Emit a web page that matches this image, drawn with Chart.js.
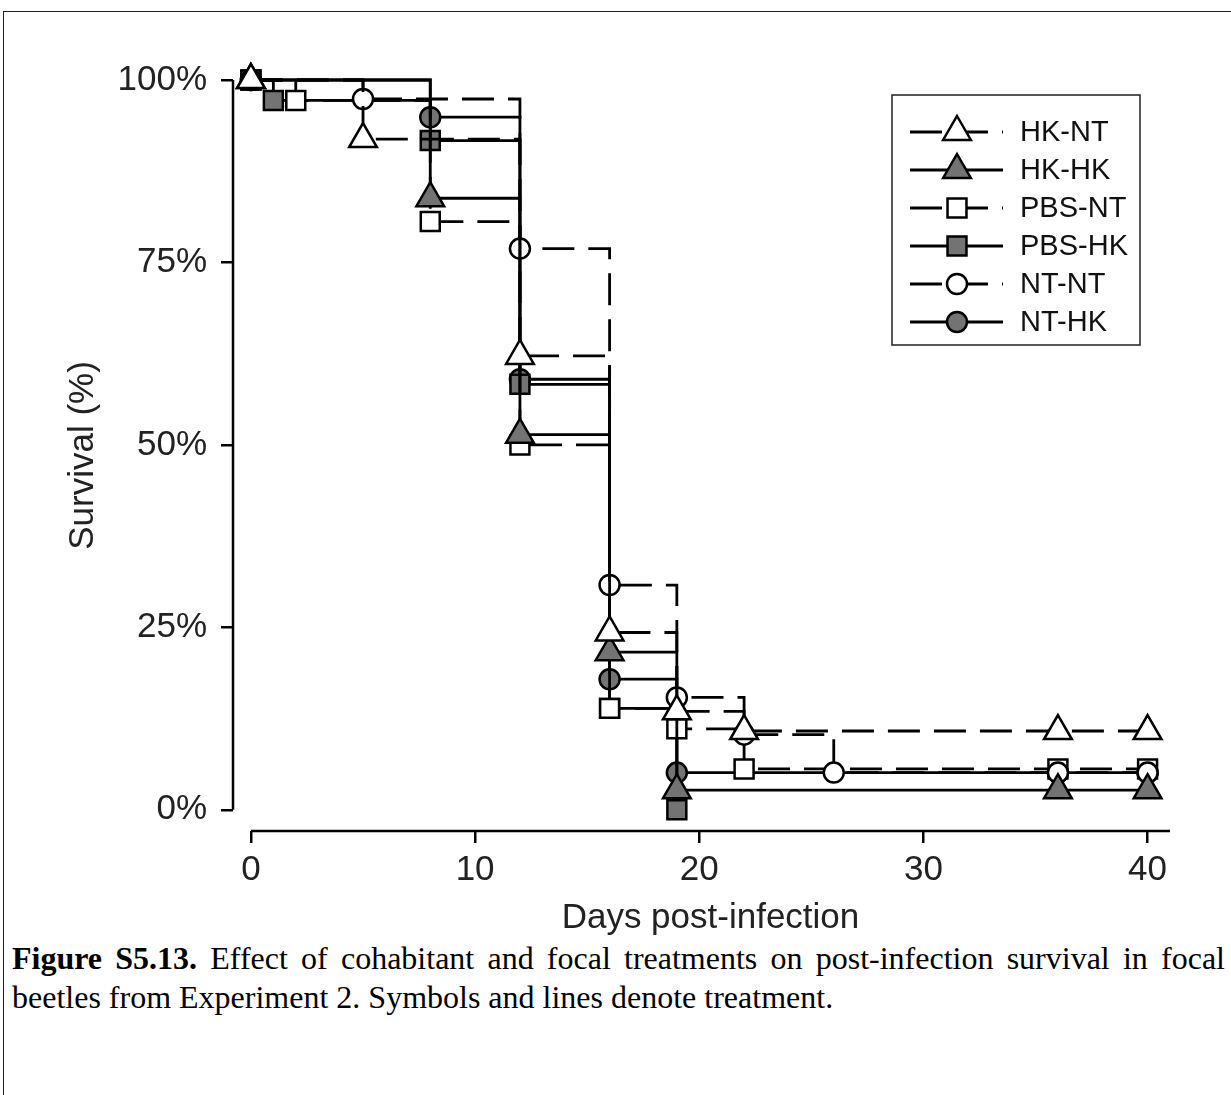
<!DOCTYPE html>
<html>
<head>
<meta charset="utf-8">
<title>Survival by treatment</title>
<style>
  html, body { margin: 0; padding: 0; background: #fff; overflow: hidden; }
  body { width: 1231px; height: 1095px; position: relative; }
  #frame { position: absolute; left: 3px; top: 11px; width: 1240px; height: 1100px; border: 1.5px solid #222; }
  #chart-box { position: absolute; left: 0; top: 0; width: 1231px; height: 939px; }
  #caption {
    position: absolute; left: 12px; top: 939px; width: 1213px;
    font-family: "Liberation Serif", "Times New Roman", serif;
    font-size: 32px; line-height: 39px; text-align: justify; color: #000;
  }
</style>
</head>
<body>
<div id="frame"></div>
<div id="chart-box"><canvas id="chart-survival"></canvas></div>
<div id="caption"><b>Figure S5.13.</b> Effect of cohabitant and focal treatments on post-infection survival in focal beetles from Experiment 2. Symbols and lines denote treatment.</div>

<script src="https://cdn.jsdelivr.net/npm/chart.js@4"></script>
<script>
  // Kaplan-Meier estimates (days, survival %)
  const groups = ['HK-NT', 'HK-HK', 'PBS-NT', 'PBS-HK', 'NT-NT', 'NT-HK'];

  const hkNtDays = [0, 5, 12, 16, 19, 22, 36, 40];
  const hkNtSurv = [100, 91.9, 62.2, 24.3, 13.5, 10.8, 10.8, 10.8];

  const hkHkDays = [0, 8, 12, 16, 19, 36, 40];
  const hkHkSurv = [100, 83.8, 51.4, 21.6, 2.7, 2.7, 2.7];

  const pbsNtDays = [0, 2, 8, 12, 16, 19, 22, 36, 40];
  const pbsNtSurv = [100, 97.2, 80.6, 50, 13.9, 11.1, 5.6, 5.6, 5.6];

  const pbsHkDays = [0, 1, 8, 12, 16, 19];
  const pbsHkSurv = [100, 97.2, 91.7, 58.3, 13.9, 0];

  const ntNtDays = [0, 5, 12, 16, 19, 22, 26, 36, 40];
  const ntNtSurv = [100, 97.4, 76.9, 30.8, 15.4, 10.3, 5.1, 5.1, 5.1];

  const ntHkDays = [0, 8, 12, 16, 19, 36, 40];
  const ntHkSurv = [100, 94.9, 59.0, 17.9, 5.1, 5.1, 5.1];

  const xTicks = [0, 10, 20, 30, 40];
  const yTicks = [0, 25, 50, 75, 100];
  const yTickLabels = ['0%', '25%', '50%', '75%', '100%'];
  const xTitle = 'Days post-infection';

  const series = [
    [hkNtDays, hkNtSurv],
    [hkHkDays, hkHkSurv],
    [pbsNtDays, pbsNtSurv],
    [pbsHkDays, pbsHkSurv],
    [ntNtDays, ntNtSurv],
    [ntHkDays, ntHkSurv],
  ];

  const gray = '#737373';
  const dash = [32, 14];
  // marker shape, fill, dashed line, draw order (lower = on top)
  const looks = {
    'HK-NT': { shape: 'triangle', fill: '#fff', dashed: true, order: 0 },
    'HK-HK': { shape: 'triangle', fill: gray, dashed: false, order: 1 },
    'PBS-NT': { shape: 'rect', fill: '#fff', dashed: true, order: 3 },
    'PBS-HK': { shape: 'rect', fill: gray, dashed: false, order: 4 },
    'NT-NT': { shape: 'circle', fill: '#fff', dashed: true, order: 2 },
    'NT-HK': { shape: 'circle', fill: gray, dashed: false, order: 5 },
  };
  const radius = { triangle: 16, rect: 13.4, circle: 10 };

  const datasets = groups.map((name, i) => {
    const [days, surv] = series[i];
    const look = looks[name];
    return {
      label: name,
      data: days.map((d, j) => ({ x: d, y: surv[j] })),
      stepped: true,
      borderColor: '#000',
      borderWidth: 2.8,
      borderDash: look.dashed ? dash : [],
      borderCapStyle: 'butt',
      fill: false,
      pointStyle: look.shape,
      pointRadius: radius[look.shape],
      pointBackgroundColor: look.fill,
      pointBorderColor: '#000',
      pointBorderWidth: 2.5,
      order: look.order,
      clip: false,
    };
  });

  function drawMarker(ctx, shape, r, x, y) {
    ctx.beginPath();
    if (shape === 'circle') {
      ctx.arc(x, y, r, 0, Math.PI * 2);
    } else if (shape === 'rect') {
      const h = r * Math.SQRT1_2;
      ctx.rect(x - h, y - h, 2 * h, 2 * h);
    } else {
      ctx.moveTo(x, y - r);
      ctx.lineTo(x + 0.866 * r, y + 0.5 * r);
      ctx.lineTo(x - 0.866 * r, y + 0.5 * r);
      ctx.closePath();
    }
    ctx.fill();
    ctx.stroke();
  }

  const axisFont = { family: '"Liberation Sans", Arial, sans-serif', size: 35 };

  // R-style axis lines that stop at the data range, x title centred on that range
  const axisLines = {
    id: 'axisLines',
    afterDraw(chart) {
      const { ctx, chartArea, scales: { x, y } } = chart;
      ctx.save();
      ctx.strokeStyle = '#000';
      ctx.lineWidth = 2.5;
      ctx.beginPath();
      ctx.moveTo(chartArea.left, y.getPixelForValue(100));
      ctx.lineTo(chartArea.left, y.getPixelForValue(0));
      ctx.moveTo(x.getPixelForValue(0), chartArea.bottom);
      ctx.lineTo(chartArea.right, chartArea.bottom);
      ctx.stroke();
      ctx.fillStyle = '#222';
      ctx.font = `${axisFont.size}px ${axisFont.family}`;
      ctx.textAlign = 'center';
      ctx.textBaseline = 'middle';
      ctx.fillText(xTitle, (x.getPixelForValue(0) + chartArea.right) / 2, x.bottom - 21);
      ctx.restore();
    },
  };

  const boxLegend = {
    id: 'boxLegend',
    afterDraw(chart) {
      const ctx = chart.ctx;
      ctx.save();
      ctx.strokeStyle = '#222';
      ctx.lineWidth = 1.5;
      ctx.strokeRect(892, 95, 248, 250);
      ctx.font = '29px "Liberation Sans", Arial, sans-serif';
      ctx.textBaseline = 'middle';
      ctx.textAlign = 'left';
      chart.data.datasets.forEach((ds, i) => {
        const y = 132 + i * 38;
        ctx.strokeStyle = '#000';
        ctx.lineWidth = ds.borderWidth;
        ctx.setLineDash(ds.borderDash);
        ctx.beginPath();
        ctx.moveTo(910, y);
        ctx.lineTo(1003, y);
        ctx.stroke();
        ctx.setLineDash([]);
        ctx.fillStyle = ds.pointBackgroundColor;
        ctx.lineWidth = ds.pointBorderWidth;
        drawMarker(ctx, ds.pointStyle, ds.pointRadius, 957, y);
        ctx.fillStyle = '#111';
        ctx.fillText(ds.label, 1020, y + 1);
      });
      ctx.restore();
    },
  };

  new Chart(document.getElementById('chart-survival'), {
    type: 'line',
    data: { datasets },
    options: {
      responsive: true,
      maintainAspectRatio: false,
      animation: false,
      layout: { padding: { top: 80, right: 61, left: 62, bottom: 0 } },
      plugins: { legend: { display: false }, tooltip: { enabled: false } },
      scales: {
        x: {
          type: 'linear',
          min: -0.8,
          max: 41.0,
          afterBuildTicks: (scale) => {
            scale.ticks = xTicks.map((v) => ({ value: v }));
          },
          afterFit: (scale) => {
            scale.height = 108;
          },
          grid: { drawOnChartArea: false, drawTicks: true, tickLength: 12, color: '#000', lineWidth: 2.5 },
          border: { display: false },
          ticks: { color: '#222', font: axisFont, padding: 6, maxRotation: 0 },
          title: { display: false },
        },
        y: {
          type: 'linear',
          min: -2.9,
          max: 100,
          afterBuildTicks: (scale) => {
            scale.ticks = yTicks.map((v) => ({ value: v }));
          },
          afterFit: (scale) => {
            scale.width = 171;
          },
          grid: { drawOnChartArea: false, drawTicks: true, tickLength: 12, color: '#000', lineWidth: 2.5 },
          border: { display: false },
          ticks: {
            color: '#222',
            font: axisFont,
            padding: 14,
            callback: (v) => yTickLabels[yTicks.indexOf(v)],
          },
          title: { display: true, text: 'Survival (%)', color: '#222', font: axisFont, padding: 0 },
        },
      },
    },
    plugins: [axisLines, boxLegend],
  });
</script>
</body>
</html>
